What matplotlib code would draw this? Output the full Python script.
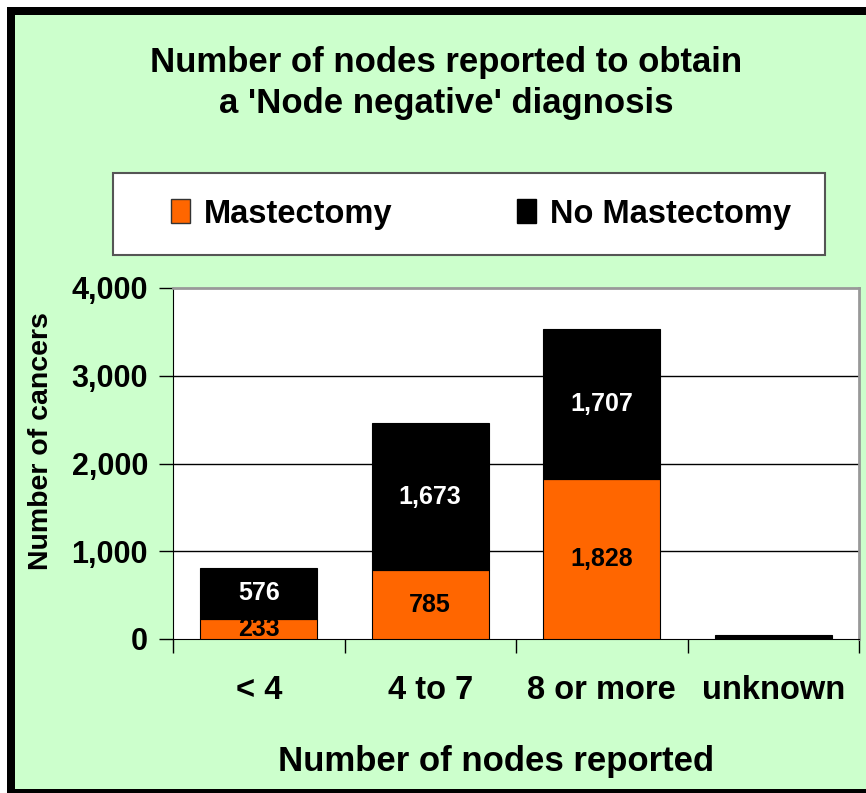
import matplotlib
matplotlib.use("Agg")
import matplotlib.pyplot as plt
from matplotlib.patches import Rectangle, Patch
from matplotlib.ticker import FuncFormatter, FixedLocator

categories = ["< 4", "4 to 7", "8 or more", "unknown"]
mastectomy = [233, 785, 1828, 5]
no_mastectomy = [576, 1673, 1707, 45]
series_names = ["Mastectomy", "No Mastectomy"]
title_text = "Number of nodes reported to obtain\na 'Node negative' diagnosis"
y_ticks = [0, 1000, 2000, 3000, 4000]

plt.rcParams['font.family'] = ['Liberation Sans', 'DejaVu Sans']
plt.rcParams['font.weight'] = 'bold'

W, H = 866, 793
fig = plt.figure(figsize=(W/100, H/100), dpi=100, facecolor='white')

def fx(px): return px / W
def fy(py): return 1 - py / H

# black frame and green background
fig.add_artist(Rectangle((fx(7), 0), 1, fy(7), transform=fig.transFigure,
                         facecolor='black', edgecolor='none', zorder=-10))
fig.add_artist(Rectangle((fx(15), fy(789)), 1, fy(15) - fy(789), transform=fig.transFigure,
                         facecolor='#CCFFCC', edgecolor='none', zorder=-9))

ax = fig.add_axes([fx(173), fy(639), fx(859) - fx(173), fy(288) - fy(639)])
ax.set_facecolor('white')

x = list(range(len(categories)))
orange = '#FF6600'
ax.bar(x, mastectomy, width=0.68, color=orange, edgecolor='black', linewidth=0.8, zorder=3)
ax.bar(x, no_mastectomy, width=0.68, bottom=mastectomy, color='black',
       edgecolor='black', linewidth=0.8, zorder=3)

for i in range(3):
    m, n = mastectomy[i], no_mastectomy[i]
    ax.text(i, m / 2, f"{m:,}", ha='center', va='center', color='black',
            fontsize=18, fontweight='bold', zorder=5)
    ax.text(i, m + n / 2, f"{n:,}", ha='center', va='center', color='white',
            fontsize=18, fontweight='bold', zorder=5)

ax.set_xlim(-0.5, 3.5)
ax.set_ylim(0, 4000)
ax.set_yticks(y_ticks)
ax.yaxis.set_major_formatter(FuncFormatter(lambda v, p: f"{int(v):,}"))
ax.tick_params(axis='y', direction='out', length=10, width=1, pad=8, labelsize=22)
for lbl in ax.get_yticklabels():
    lbl.set_fontweight('bold')

ax.set_xticks(x)
ax.set_xticklabels(categories, fontsize=23.5, fontweight='bold')
ax.tick_params(axis='x', which='major', length=0, pad=26)
ax.xaxis.set_minor_locator(FixedLocator([-0.5, 0.5, 1.5, 2.5, 3.5]))
ax.tick_params(axis='x', which='minor', direction='out', length=10, width=1)

for yv in y_ticks[1:-1]:
    ax.axhline(yv, color='black', linewidth=1, zorder=1)

ax.spines['left'].set_color('black')
ax.spines['bottom'].set_color('black')
ax.spines['top'].set_color('#999999')
ax.spines['right'].set_color('#999999')
ax.spines['top'].set_linewidth(2)
ax.spines['right'].set_linewidth(2)

ax.set_ylabel("Number of cancers", fontsize=20.5, fontweight='bold')
ax.yaxis.set_label_coords((54 - 173) / 686, (639 - 441) / 351)

fig.text(fx(496), fy(761), "Number of nodes reported", ha='center', va='center',
         fontsize=25, fontweight='bold')
fig.text(fx(446), fy(83), title_text, ha='center', va='center',
         fontsize=25, fontweight='bold', linespacing=1.32)

# legend box
fig.add_artist(Rectangle((fx(113), fy(255)), fx(825) - fx(113), fy(173) - fy(255),
                         transform=fig.transFigure, facecolor='white',
                         edgecolor='#555555', linewidth=1.5, zorder=1))
handles = [Patch(facecolor=orange, edgecolor='#333333', linewidth=1),
           Patch(facecolor='black', edgecolor='black', linewidth=1)]
leg = fig.legend(handles, series_names, loc='center', bbox_to_anchor=(fx(481), fy(214)),
                 ncol=2, frameon=False, handlelength=0.6, handleheight=0.75,
                 handletextpad=0.43, columnspacing=3.8,
                 prop={'weight': 'bold', 'size': 23.5})
leg.set_zorder(2)

fig.savefig("out.png", dpi=100, facecolor=fig.get_facecolor())
